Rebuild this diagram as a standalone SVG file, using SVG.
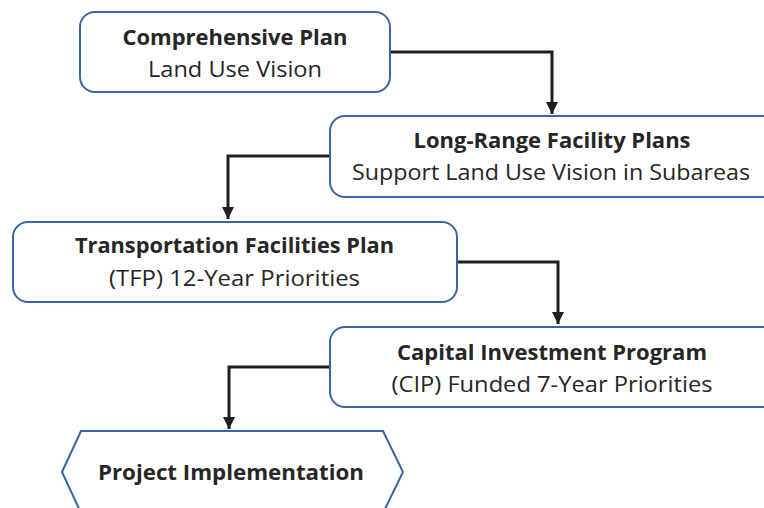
<svg xmlns="http://www.w3.org/2000/svg" width="764" height="508" viewBox="0 0 764 508">
  <style>
    .box { fill: #ffffff; stroke: #3a64a6; stroke-width: 2; }
    .title { font-family: "Open Sans", "Liberation Sans", sans-serif; font-weight: bold; font-size: 22px; fill: #262626; text-anchor: middle; }
    .sub { font-family: "Open Sans", "Liberation Sans", sans-serif; font-size: 22px; fill: #262626; text-anchor: middle; }
    .conn { fill: none; stroke: #1e1e1e; stroke-width: 3; marker-end: url(#arrow); }
  </style>
  <defs>
    <marker id="arrow" markerUnits="userSpaceOnUse" markerWidth="14" markerHeight="14" refX="12" refY="7" orient="auto">
      <path d="M0,1 L12,7 L0,13 Z" fill="#1e1e1e"/>
    </marker>
  </defs>
  <rect width="764" height="508" fill="#ffffff"/>

  <g id="connectors">
    <path class="conn" d="M390,52 H552 V114"/>
    <path class="conn" d="M330,156 H228 V219"/>
    <path class="conn" d="M457,262 H558 V324"/>
    <path class="conn" d="M330,367 H229 V429"/>
  </g>

  <g id="comprehensive-plan">
    <rect class="box" x="80" y="12" width="310" height="80" rx="15"/>
    <text class="title" x="235" y="45" textLength="225" lengthAdjust="spacingAndGlyphs">Comprehensive Plan</text>
    <text class="sub" x="235" y="77" textLength="174" lengthAdjust="spacingAndGlyphs">Land Use Vision</text>
  </g>

  <g id="long-range-facility-plans">
    <rect class="box" x="330" y="116" width="450" height="81" rx="15"/>
    <text class="title" x="552" y="148" textLength="277" lengthAdjust="spacingAndGlyphs">Long-Range Facility Plans</text>
    <text class="sub" x="551" y="180" textLength="398" lengthAdjust="spacingAndGlyphs">Support Land Use Vision in Subareas</text>
  </g>

  <g id="transportation-facilities-plan">
    <rect class="box" x="13" y="222" width="444" height="80" rx="15"/>
    <text class="title" x="234.5" y="253" textLength="319" lengthAdjust="spacingAndGlyphs">Transportation Facilities Plan</text>
    <text class="sub" x="234.5" y="286" textLength="251" lengthAdjust="spacingAndGlyphs">(TFP) 12-Year Priorities</text>
  </g>

  <g id="capital-investment-program">
    <rect class="box" x="330" y="327" width="450" height="80" rx="15"/>
    <text class="title" x="552" y="360" textLength="310" lengthAdjust="spacingAndGlyphs">Capital Investment Program</text>
    <text class="sub" x="552" y="392" textLength="321" lengthAdjust="spacingAndGlyphs">(CIP) Funded 7-Year Priorities</text>
  </g>

  <g id="project-implementation">
    <polygon class="box" points="62,472 81,431 383,431 403,472 383,513 81,513"/>
    <text class="title" x="231" y="480" textLength="266" lengthAdjust="spacingAndGlyphs">Project Implementation</text>
  </g>
</svg>
